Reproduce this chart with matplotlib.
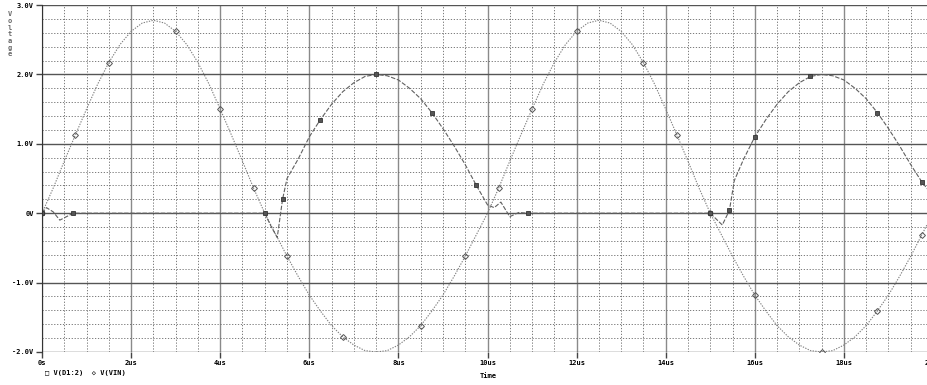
import numpy as np
import matplotlib
matplotlib.use('Agg')
import matplotlib.pyplot as plt
from matplotlib.ticker import MultipleLocator

# time axis in us
t_vin = [0, 0.25, 0.5, 0.75, 1, 1.25, 1.5, 1.75, 2, 2.25, 2.5, 2.75, 3, 3.25, 3.5, 3.75, 4, 4.25, 4.5, 4.75,
         5, 5.25, 5.5, 5.75, 6, 6.25, 6.5, 6.75, 7, 7.25, 7.5, 7.75, 8, 8.25, 8.5, 8.75, 9, 9.25, 9.5, 9.75,
         10, 10.25, 10.5, 10.75, 11, 11.25, 11.5, 11.75, 12, 12.25, 12.5, 12.75, 13, 13.25, 13.5, 13.75, 14, 14.25, 14.5, 14.75,
         15, 15.25, 15.5, 15.75, 16, 16.25, 16.5, 16.75, 17, 17.25, 17.5, 17.75, 18, 18.25, 18.5, 18.75, 19, 19.25, 19.5, 19.75, 20]
v_vin = [0, 0.36, 0.75, 1.13, 1.5, 1.86, 2.17, 2.43, 2.62, 2.74, 2.78, 2.74, 2.62, 2.43, 2.17, 1.86, 1.5, 1.13, 0.75, 0.36,
         0, -0.31, -0.62, -0.91, -1.18, -1.41, -1.62, -1.78, -1.9, -1.98, -2.0, -1.98, -1.9, -1.78, -1.62, -1.41, -1.18, -0.91, -0.62, -0.31,
         0, 0.36, 0.75, 1.13, 1.5, 1.86, 2.17, 2.43, 2.62, 2.74, 2.78, 2.74, 2.62, 2.43, 2.17, 1.86, 1.5, 1.13, 0.75, 0.36,
         0, -0.31, -0.62, -0.91, -1.18, -1.41, -1.62, -1.78, -1.9, -1.98, -2.0, -1.98, -1.9, -1.78, -1.62, -1.41, -1.18, -0.91, -0.62, -0.31, 0.0]

t_out = [0, 0.1, 0.25, 0.4, 0.55, 0.7, 5.0, 5.15, 5.28, 5.4, 5.5, 5.75, 6.0, 6.25, 6.5, 6.75, 7.0, 7.25, 7.5, 7.75,
         8.0, 8.25, 8.5, 8.75, 9.0, 9.25, 9.5, 9.75, 10.0, 10.15, 10.3, 10.5, 10.7, 10.9,
         15.0, 15.27, 15.43, 15.54, 15.75, 16.0, 16.25, 16.5, 16.75, 17.0, 17.25, 17.5, 17.75,
         18.0, 18.25, 18.5, 18.75, 19.0, 19.25, 19.5, 19.75, 20.0]
v_out = [0, 0.08, 0.02, -0.1, -0.05, 0.0, 0.0, -0.2, -0.35, 0.2, 0.5, 0.78, 1.1, 1.35, 1.57, 1.75, 1.88, 1.97, 2.0, 1.98,
         1.92, 1.8, 1.65, 1.45, 1.22, 0.97, 0.7, 0.4, 0.12, 0.08, 0.16, -0.05, 0.01, 0.0,
         0.0, -0.17, 0.04, 0.47, 0.78, 1.1, 1.35, 1.57, 1.75, 1.88, 1.97, 2.0, 1.98,
         1.92, 1.8, 1.65, 1.45, 1.22, 0.97, 0.7, 0.45, 0.25]

ytick_vals = [-2, -1, 0, 1, 2, 3]
ytick_labels = ['-2.0V', '-1.0V', '0V', '1.0V', '2.0V', '3.0V']
xtick_vals = [0, 2, 4, 6, 8, 10, 12, 14, 16, 18, 20]
xtick_labels = ['0s', '2us', '4us', '6us', '8us', '10us', '12us', '14us', '16us', '18us', '20us']

plt.rcParams['font.family'] = 'DejaVu Sans Mono'
fig = plt.figure(figsize=(9.28, 3.85), dpi=100)
ax = fig.add_axes([42/928, 33/385, 891/928, 347/385])

ax.plot(t_vin, v_vin, color='#808080', lw=0.8, ls=(0, (1.2, 1.2)),
        marker='D', ms=3, mfc='none', mec='#555555', mew=0.7, markevery=0.09)
ax.plot(t_out, v_out, color='#606060', lw=0.8, ls=(0, (4, 1.5)),
        marker='s', ms=3, mfc='#555555', mec='#333333', mew=0.6, markevery=0.08)

ax.set_xlim(0, 20)
ax.set_ylim(-2, 3)
ax.set_xticks(xtick_vals)
ax.set_xticklabels(xtick_labels, fontsize=5, fontweight='bold')
ax.set_yticks(ytick_vals)
ax.set_yticklabels(ytick_labels, fontsize=5, fontweight='bold')
ax.xaxis.set_minor_locator(MultipleLocator(0.5))
ax.yaxis.set_minor_locator(MultipleLocator(0.2))
ax.grid(which='major', axis='x', color='#8a8a8a', lw=1.0, ls='-')
ax.grid(which='major', axis='y', color='#555555', lw=1.0, ls='-')
ax.grid(which='minor', color='#666666', lw=0.6, ls=(0, (1.5, 2)))
ax.set_axisbelow(True)
ax.tick_params(which='major', length=4, width=1, color='#444444', pad=2)
ax.tick_params(which='minor', length=0)
for s in ['top', 'right', 'bottom']:
    ax.spines[s].set_visible(False)
ax.spines['left'].set_color('#333333')

fig.text(10/928, 1 - 11/385, '\n'.join('Voltage'), fontsize=5, fontweight='bold',
         va='top', ha='center', color='#666666', linespacing=1.15)
fig.text(480/928, 1 - 376/385, 'Time', fontsize=5, fontweight='bold', va='center', ha='left')
fig.text(45/928, 1 - 373/385, '\u25A1 V(D1:2)  \u25C7 V(VIN)', fontsize=5, fontweight='bold',
         va='center', ha='left')

fig.savefig('out.png', dpi=100)
